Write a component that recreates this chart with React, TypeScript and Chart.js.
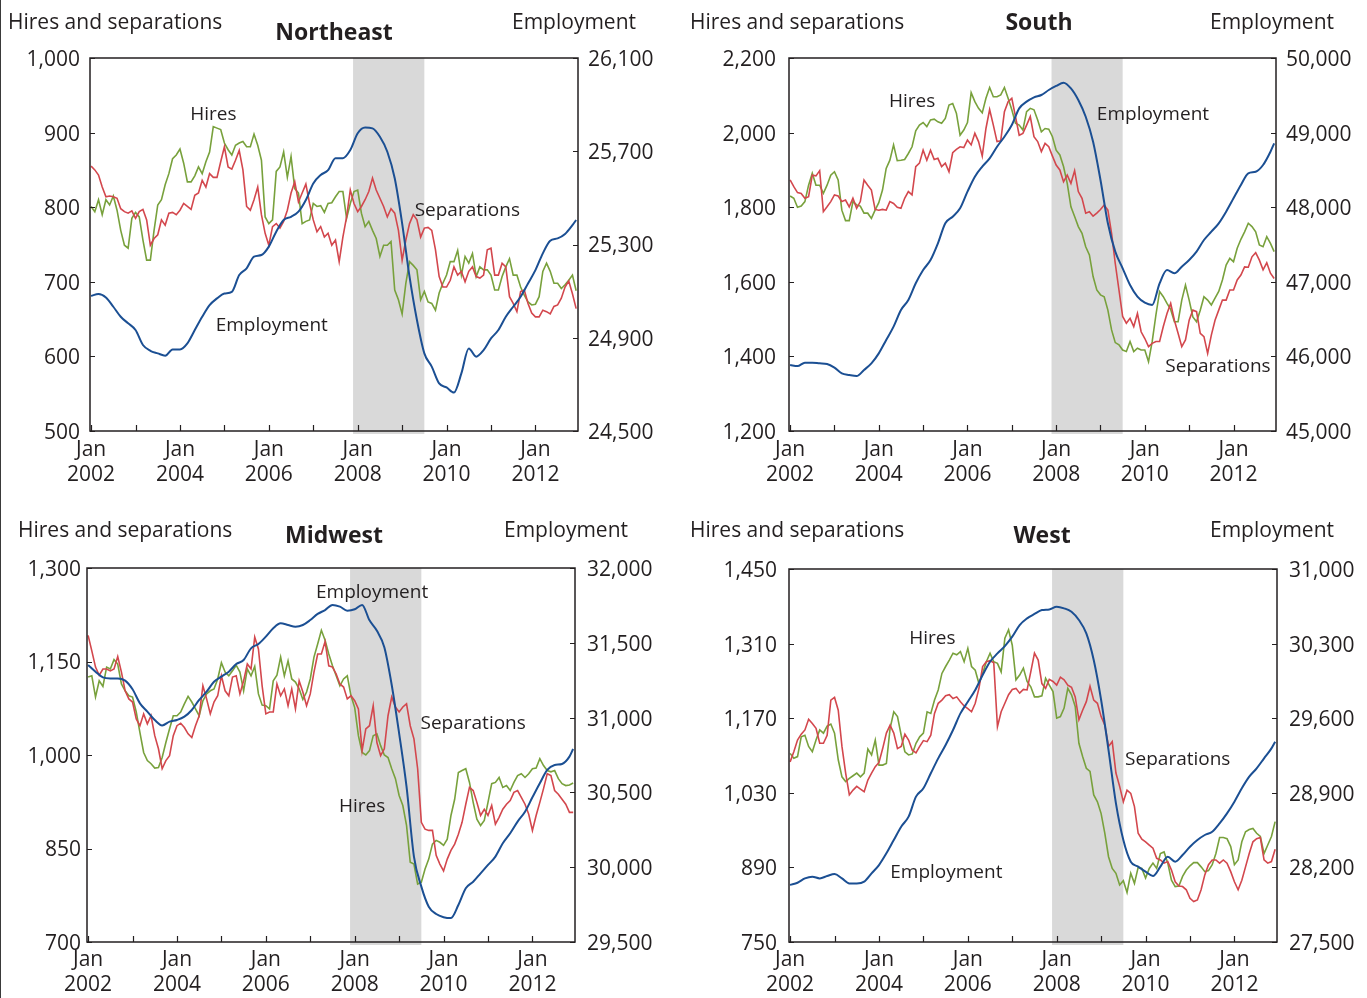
import React, { useEffect, useRef } from "react";
import { Chart, registerables } from "chart.js";

Chart.register(...registerables);

const FONT = "'Open Sans', 'Noto Sans', sans-serif";
const INK = "#231f20";
const GREEN = "#78a13c";
const RED = "#d3474d";
const BLUE = "#1b4f93";
const SHADE = "#d9d9d9";

// month index: 0 = Jan 2002
const months = Array.from({ length: 132 }, (_, i) => i);
const empMonths = Array.from({ length: 66 }, (_, i) => i * 2).concat([131]);
const yearTicks = [0, 12, 24, 36, 48, 60, 72, 84, 96, 108, 120];
const recession = [70.75, 90];

// ---------------- Northeast ----------------
const neHires = [801,794,810,790,810,803,815,796,769,749, 745,785,793,787,756,729,729,769,803,810, 830,845,865,870,878,859,834,834,842,854, 845,861,874,908,906,904,886,877,870,883, 886,888,881,881,898,883,863,787,778,783, 848,854,874,840,868,825,819,778,781,783, 805,801,802,793,805,806,814,821,821,785, 805,821,823,792,774,781,769,758,734,749, 749,754,689,676,657,698,727,722,716,676, 687,673,671,662,685,698,709,727,727,742, 709,734,725,738,707,720,716,716,709,689, 689,707,720,731,709,709,693,682,673,669, 670,680,714,725,714,698,698,691,696,702, 709,688];
const neSeparations = [855,850,843,827,814,815,814,812,798,794, 792,795,785,794,797,783,749,758,763,783, 776,792,793,790,796,805,801,797,816,819, 836,827,845,840,840,861,881,854,851,863, 876,850,801,796,810,827,790,765,749,774, 778,772,781,796,819,834,807,819,831,805, 783,767,774,760,765,749,756,727,760,787, 823,805,794,801,810,821,839,823,812,801, 787,798,792,769,729,756,778,790,783,760, 772,773,769,743,707,693,693,702,720,709, 714,700,714,720,707,705,709,743,745,709, 709,725,720,680,671,660,687,689,671,658, 653,653,662,660,657,667,669,678,693,701, 684,664];
const neEmployment = [25079,25088,25073,25033,24990,24962,24933,24869,24844,24833, 24823,24850,24850,24876,24933,24990,25040,25069,25090,25097, 25169,25198,25248,25255,25291,25355,25405,25419,25441,25491, 25562,25598,25619,25670,25670,25705,25777,25802,25798,25762, 25698,25584,25391,25162,24976,24833,24776,24704,24687,24665, 24747,24854,24819,24847,24897,24933,24990,25033,25076,25133, 25190,25262,25316,25326,25345,25383, 25405];
const neLeftTicks = [500, 600, 700, 800, 900, 1000];
const neRightTicks = [24500, 24900, 25300, 25700, 26100];

// ---------------- South ----------------
const soHires = [1830,1824,1800,1803,1815,1859,1891,1859,1859,1837, 1859,1886,1895,1873,1792,1764,1764,1815,1806,1803, 1784,1784,1770,1792,1812,1846,1904,1926,1967,1925, 1926,1928,1944,1962,2005,2020,2027,2016,2034,2036, 2029,2025,2038,2074,2078,2052,1993,2007,2027,2107, 2083,2065,2053,2092,2121,2096,2096,2101,2121,2092, 2061,2025,2020,2007,2056,2065,2061,2034,2002,2011, 2009,1989,1953,1940,1909,1864,1801,1775,1748,1730, 1694,1672,1614,1578,1565,1560,1524,1471,1437,1431, 1417,1413,1440,1413,1422,1417,1417,1386,1440,1511, 1574,1560,1542,1526,1493,1493,1551,1591,1551,1506, 1493,1524,1560,1551,1538,1556,1574,1605,1645,1663, 1654,1690,1714,1734,1757,1748,1734,1699,1694,1721, 1703,1681];
const soSeparations = [1873,1855,1839,1837,1824,1828,1886,1884,1898,1788, 1801,1815,1833,1830,1815,1819,1801,1824,1797,1815, 1873,1859,1846,1794,1792,1794,1792,1815,1810,1800, 1797,1824,1842,1833,1909,1918,1953,1926,1953,1928, 1931,1909,1918,1895,1946,1955,1962,1960,1980,1967, 1998,1976,1937,2011,2062,2020,1976,1978,2056,2083, 2092,2043,1993,1998,2020,2043,1989,1976,1949,1971, 1962,1937,1913,1900,1868,1886,1864,1898,1842,1824, 1784,1788,1776,1784,1794,1806,1792,1730,1649,1578, 1507,1489,1502,1480,1515,1466,1448,1426,1435,1440, 1440,1480,1515,1542,1497,1462,1426,1444,1497,1524, 1520,1462,1453,1408,1457,1497,1524,1551,1551,1578, 1578,1605,1618,1640,1639,1667,1678,1658,1632,1651, 1623,1609];
const soEmployment = [45885,45871,45916,45916,45907,45898,45849,45773,45751,45737, 45818,45907,46041,46220,46399,46622,46756,46980,47158,47292, 47516,47785,47873,47985,48208,48409,48543,48655,48811,48945, 49102,49325,49415,49473,49504,49571,49625,49669,49593,49437, 49213,48878,48365,47784,47404,47181,46957,46801,46720,46690, 46979,47158,47114,47203,47292,47404,47560,47672,47784,47940, 48119,48298,48454,48476,48566,48744, 48856];
const soLeftTicks = [1200, 1400, 1600, 1800, 2000, 2200];
const soRightTicks = [45000, 46000, 47000, 48000, 49000, 50000];

// ---------------- Midwest ----------------
const mwHires = [1125,1127,1093,1119,1110,1141,1138,1153,1146,1114, 1103,1095,1093,1069,1036,1004,991,986,979,980, 996,1020,1042,1063,1063,1069,1082,1094,1085,1074, 1063,1087,1098,1103,1106,1122,1148,1133,1127,1135, 1144,1133,1103,1138,1127,1142,1098,1080,1079,1074, 1119,1128,1157,1127,1151,1122,1117,1106,1089,1101, 1122,1157,1178,1200,1184,1162,1143,1127,1111,1122, 1127,1095,1076,1031,1004,1000,1007,1031,1034,1015, 1000,996,978,962,935,919,887,828,825,793, 796,817,833,857,863,860,855,865,903,929, 972,975,978,956,924,897,887,895,924,954, 956,964,948,951,943,956,967,970,964,970, 978,979,994,983,975,973,975,962,954,951, 952,955];
const mwSeparations = [1192,1167,1141,1128,1138,1138,1135,1138,1158,1133, 1103,1090,1085,1058,1047,1066,1050,1063,1031,1010, 978,991,999,1031,1047,1051,1044,1034,1028,1047, 1063,1111,1090,1066,1085,1095,1127,1103,1095,1125, 1127,1098,1119,1146,1138,1189,1170,1111,1066,1069, 1069,1114,1095,1106,1079,1106,1074,1119,1101,1079, 1098,1133,1162,1162,1182,1143,1141,1130,1114,1109, 1090,1095,1087,1074,1007,1042,1047,1079,1020,999, 1010,1063,1093,1077,1069,1077,1082,1047,1026,978, 892,881,879,879,839,825,814,833,847,857, 873,892,921,948,943,924,903,913,903,919, 889,900,913,921,927,940,943,932,921,905, 879,903,924,946,970,967,943,937,929,921, 908,908];
const mwEmployment = [31352,31307,31269,31262,31262,31247,31189,31095,31040,30984, 30948,30973,30984,31006,31051,31118,31173,31240,31274,31307, 31358,31385,31463,31492,31541,31597,31630,31619,31608,31619, 31652,31693,31719,31753,31742,31715,31724,31753,31650,31580, 31470,31218,30895,30538,30071,29870,29736,29687,29666,29660, 29747,29859,29903,29959,30015,30071,30160,30227,30305,30371, 30467,30561,30650,30683,30690,30739, 30790];
const mwLeftTicks = [700, 850, 1000, 1150, 1300];
const mwRightTicks = [29500, 30000, 30500, 31000, 31500, 32000];

// ---------------- West ----------------
const wHires = [1104,1095,1098,1135,1138,1117,1107,1129,1148,1142, 1155,1159,1142,1092,1060,1051,1057,1062,1067,1060, 1067,1112,1101,1129,1082,1082,1085,1151,1182,1173, 1138,1107,1101,1103,1123,1135,1142,1182,1179,1204, 1223,1254,1267,1279,1292,1289,1295,1276,1301,1267, 1260,1235,1254,1276,1292,1276,1273,1257,1320,1336, 1307,1242,1251,1264,1239,1229,1210,1210,1212,1245, 1232,1220,1170,1173,1189,1226,1214,1192,1123,1098, 1076,1070,1026,1013,991,954,910,888,879,857, 865,843,879,860,890,888,870,888,898,888, 916,919,898,866,854,855,873,885,893,899, 899,891,882,884,895,916,946,946,944,929, 895,904,938,957,961,963,954,948,916,932, 948,976];
const wSeparations = [1088,1107,1129,1140,1148,1168,1160,1151,1123,1123, 1138,1204,1209,1185,1117,1067,1026,1035,1042,1037, 1032,1054,1067,1079,1087,1113,1142,1157,1142,1113, 1117,1140,1129,1110,1105,1117,1128,1126,1138,1179, 1198,1204,1212,1214,1207,1210,1201,1193,1188,1182, 1198,1226,1267,1276,1278,1274,1154,1182,1198,1214, 1224,1226,1217,1224,1223,1257,1292,1279,1235,1226, 1243,1239,1232,1247,1242,1232,1228,1210,1167,1185, 1201,1230,1204,1198,1173,1157,1117,1126,1067,1042, 1013,1035,1029,1004,954,943,938,932,926,907, 904,898,901,885,863,855,854,848,832,826, 829,848,876,895,904,904,898,904,898,882, 863,848,866,891,916,938,944,946,904,898, 901,924];
const wEmployment = [28035,28056,28097,28113,28097,28119,28138,28097,28050,28050, 28066,28144,28222,28332,28457,28582,28676,28864,28942,29083, 29223,29348,29489,29645,29755,29864,30005,30130,30208,30277, 30365,30474,30537,30578,30615,30621,30646,30631,30599,30521, 30396,30146,29771,29301,28801,28457,28254,28207,28160,28119, 28207,28300,28254,28316,28394,28457,28504,28535,28613,28707, 28817,28942,29051,29129,29223,29317, 29380];
const wLeftTicks = [750, 890, 1030, 1170, 1310, 1450];
const wRightTicks = [27500, 28200, 28900, 29600, 30300, 31000];

type Label = { text: string; m: number; v: number };
type Panel = {
  key: string;
  title: string;
  box: { x: number; y: number; w: number; h: number };
  area: { left: number; right: number; top: number; bottom: number };
  lPad: number;
  rPad: number;
  xPad: number;
  hdrBase: number;
  hdrLeft: number;
  hdrRight: number;
  titleX: number;
  titleBase: number;
  hires: number[];
  separations: number[];
  employment: number[];
  leftTicks: number[];
  rightTicks: number[];
  labels: Label[];
};

const panels: Panel[] = [
  {
    key: "ne", title: "Northeast",
    box: { x: 0, y: 0, w: 683, h: 499 },
    area: { left: 90, right: 578, top: 58, bottom: 431 },
    lPad: 10, rPad: 10, xPad: 7,
    hdrBase: 29, hdrLeft: 8, hdrRight: 636, titleX: 334, titleBase: 40,
    hires: neHires, separations: neSeparations, employment: neEmployment,
    leftTicks: neLeftTicks, rightTicks: neRightTicks,
    labels: [
      { text: "Hires", m: 33, v: 924 },
      { text: "Separations", m: 101.6, v: 795 },
      { text: "Employment", m: 48.8, v: 641 },
    ],
  },
  {
    key: "so", title: "South",
    box: { x: 683, y: 0, w: 684, h: 499 },
    area: { left: 106, right: 593, top: 58, bottom: 431 },
    lPad: 13, rPad: 10, xPad: 7,
    hdrBase: 29, hdrLeft: 7, hdrRight: 651, titleX: 356, titleBase: 30,
    hires: soHires, separations: soSeparations, employment: soEmployment,
    leftTicks: soLeftTicks, rightTicks: soRightTicks,
    labels: [
      { text: "Hires", m: 33, v: 2082 },
      { text: "Employment", m: 98.2, v: 2047 },
      { text: "Separations", m: 115.8, v: 1372 },
    ],
  },
  {
    key: "mw", title: "Midwest",
    box: { x: 0, y: 499, w: 683, h: 499 },
    area: { left: 87, right: 575, top: 69, bottom: 443 },
    lPad: 6, rPad: 12, xPad: 6,
    hdrBase: 38, hdrLeft: 18, hdrRight: 628, titleX: 334, titleBase: 44,
    hires: mwHires, separations: mwSeparations, employment: mwEmployment,
    leftTicks: mwLeftTicks, rightTicks: mwRightTicks,
    labels: [
      { text: "Employment", m: 76.7, v: 1260 },
      { text: "Separations", m: 104, v: 1051 },
      { text: "Hires", m: 74, v: 918 },
    ],
  },
  {
    key: "w", title: "West",
    box: { x: 683, y: 499, w: 684, h: 499 },
    area: { left: 106, right: 594, top: 70, bottom: 443 },
    lPad: 12, rPad: 12, xPad: 6,
    hdrBase: 38, hdrLeft: 7, hdrRight: 651, titleX: 359, titleBase: 44,
    hires: wHires, separations: wSeparations, employment: wEmployment,
    leftTicks: wLeftTicks, rightTicks: wRightTicks,
    labels: [
      { text: "Hires", m: 38.4, v: 1320 },
      { text: "Separations", m: 104.7, v: 1093 },
      { text: "Employment", m: 42.2, v: 881 },
    ],
  },
];

const fmt = (v: number) => v.toLocaleString("en-US");

function decorPlugin(p: Panel) {
  return {
    id: "decor-" + p.key,
    beforeDatasetsDraw(chart: any) {
      const { ctx, chartArea: a, scales } = chart;
      const x0 = scales.x.getPixelForValue(recession[0]);
      const x1 = scales.x.getPixelForValue(recession[1]);
      ctx.save();
      ctx.fillStyle = SHADE;
      ctx.fillRect(x0, a.top, x1 - x0, a.bottom - a.top + 3);
      ctx.restore();
    },
    afterDatasetsDraw(chart: any) {
      const { ctx, chartArea: a, scales } = chart;
      ctx.save();
      ctx.strokeStyle = INK;
      ctx.lineWidth = 1.5;
      ctx.strokeRect(a.left, a.top, a.right - a.left, a.bottom - a.top);
      ctx.lineWidth = 1.2;
      ctx.beginPath();
      for (const v of yearTicks) {
        const x = Math.round(scales.x.getPixelForValue(v)) + 0.5;
        ctx.moveTo(x, a.bottom);
        ctx.lineTo(x, a.bottom - 6);
      }
      for (const v of p.leftTicks) {
        const y = Math.round(scales.y.getPixelForValue(v)) + 0.5;
        ctx.moveTo(a.left, y);
        ctx.lineTo(a.left + 5, y);
      }
      for (const v of p.rightTicks) {
        const y = Math.round(scales.y2.getPixelForValue(v)) + 0.5;
        ctx.moveTo(a.right, y);
        ctx.lineTo(a.right - 5, y);
      }
      ctx.stroke();

      ctx.fillStyle = INK;
      // y-axis tick labels
      ctx.font = `21px ${FONT}`;
      ctx.textBaseline = "middle";
      ctx.textAlign = "right";
      for (const v of p.leftTicks) {
        ctx.fillText(fmt(v), a.left - p.lPad, scales.y.getPixelForValue(v) + 2);
      }
      ctx.textAlign = "left";
      for (const v of p.rightTicks) {
        ctx.fillText(fmt(v), a.right + p.rPad, scales.y2.getPixelForValue(v) + 2);
      }

      // series labels
      ctx.font = `19px ${FONT}`;
      ctx.textAlign = "center";
      ctx.textBaseline = "middle";
      for (const l of p.labels) {
        ctx.fillText(l.text, scales.x.getPixelForValue(l.m), scales.y.getPixelForValue(l.v));
      }

      // headers
      ctx.font = `21px ${FONT}`;
      ctx.textBaseline = "alphabetic";
      ctx.textAlign = "left";
      ctx.fillText("Hires and separations", p.hdrLeft, p.hdrBase);
      ctx.textAlign = "right";
      ctx.fillText("Employment", p.hdrRight, p.hdrBase);
      ctx.font = `bold 23px ${FONT}`;
      ctx.textAlign = "center";
      ctx.fillText(p.title, p.titleX, p.titleBase);
      ctx.restore();
    },
  };
}

function PanelChart({ p }: { p: Panel }) {
  const ref = useRef<HTMLCanvasElement | null>(null);
  useEffect(() => {
    if (!ref.current) return;
    const tickFont = { family: FONT, size: 21, lineHeight: 1.17 };
    const hidden = "rgba(0,0,0,0)";
    const chart = new Chart(ref.current, {
      type: "line",
      data: {
        datasets: [
          {
            label: "Employment",
            data: empMonths.map((m, i) => ({ x: m, y: p.employment[i] })),
            borderColor: BLUE,
            borderWidth: 2,
            pointRadius: 0,
            cubicInterpolationMode: "monotone",
            yAxisID: "y2",
          },
          {
            label: "Separations",
            data: months.map((m) => ({ x: m, y: p.separations[m] })),
            borderColor: RED,
            borderWidth: 1.6,
            pointRadius: 0,
            tension: 0,
            yAxisID: "y",
          },
          {
            label: "Hires",
            data: months.map((m) => ({ x: m, y: p.hires[m] })),
            borderColor: GREEN,
            borderWidth: 1.6,
            pointRadius: 0,
            tension: 0,
            yAxisID: "y",
          },
        ],
      },
      options: {
        animation: false,
        responsive: false,
        maintainAspectRatio: false,
        devicePixelRatio: 1,
        layout: { padding: { top: p.area.top, left: 0, right: 0, bottom: 0 } },
        plugins: {
          legend: { display: false },
          tooltip: { enabled: false },
          title: { display: false },
        },
        scales: {
          x: {
            type: "linear",
            min: -0.3,
            max: 131.5,
            grid: { display: false, drawTicks: false },
            border: { display: false },
            afterBuildTicks: (s: any) => {
              s.ticks = yearTicks.map((v) => ({ value: v }));
            },
            afterFit: (s: any) => {
              s.height = p.box.h - p.area.bottom;
            },
            ticks: {
              autoSkip: false,
              maxRotation: 0,
              minRotation: 0,
              padding: p.xPad,
              color: INK,
              font: tickFont,
              callback: (v: any) => (Number(v) % 24 === 0 ? ["Jan", String(2002 + Number(v) / 12)] : ""),
            },
          },
          y: {
            type: "linear",
            position: "left",
            min: p.leftTicks[0],
            max: p.leftTicks[p.leftTicks.length - 1],
            grid: { display: false, drawTicks: false },
            border: { display: false },
            afterBuildTicks: (s: any) => {
              s.ticks = p.leftTicks.map((v) => ({ value: v }));
            },
            afterFit: (s: any) => {
              s.width = p.area.left;
            },
            ticks: { padding: p.lPad, color: hidden, font: tickFont, callback: (v: any) => fmt(Number(v)) },
          },
          y2: {
            type: "linear",
            position: "right",
            min: p.rightTicks[0],
            max: p.rightTicks[p.rightTicks.length - 1],
            grid: { display: false, drawTicks: false },
            border: { display: false },
            afterBuildTicks: (s: any) => {
              s.ticks = p.rightTicks.map((v) => ({ value: v }));
            },
            afterFit: (s: any) => {
              s.width = p.box.w - p.area.right;
            },
            ticks: { padding: p.rPad, color: hidden, font: tickFont, callback: (v: any) => fmt(Number(v)) },
          },
        },
      } as any,
      plugins: [decorPlugin(p)],
    });
    return () => chart.destroy();
  }, [p]);
  return (
    <canvas
      ref={ref}
      width={p.box.w}
      height={p.box.h}
      style={{ position: "absolute", left: p.box.x, top: p.box.y, width: p.box.w, height: p.box.h }}
    />
  );
}

export default function App() {
  return (
    <div style={{ position: "absolute", left: 0, top: 0, width: 1367, height: 998, background: "#fff", overflow: "hidden" }}>
      <div style={{ position: "absolute", left: 0, top: 0, width: 1, height: 998, background: "#3a3a3a" }} />
      {panels.map((p) => (
        <PanelChart key={p.key} p={p} />
      ))}
    </div>
  );
}
